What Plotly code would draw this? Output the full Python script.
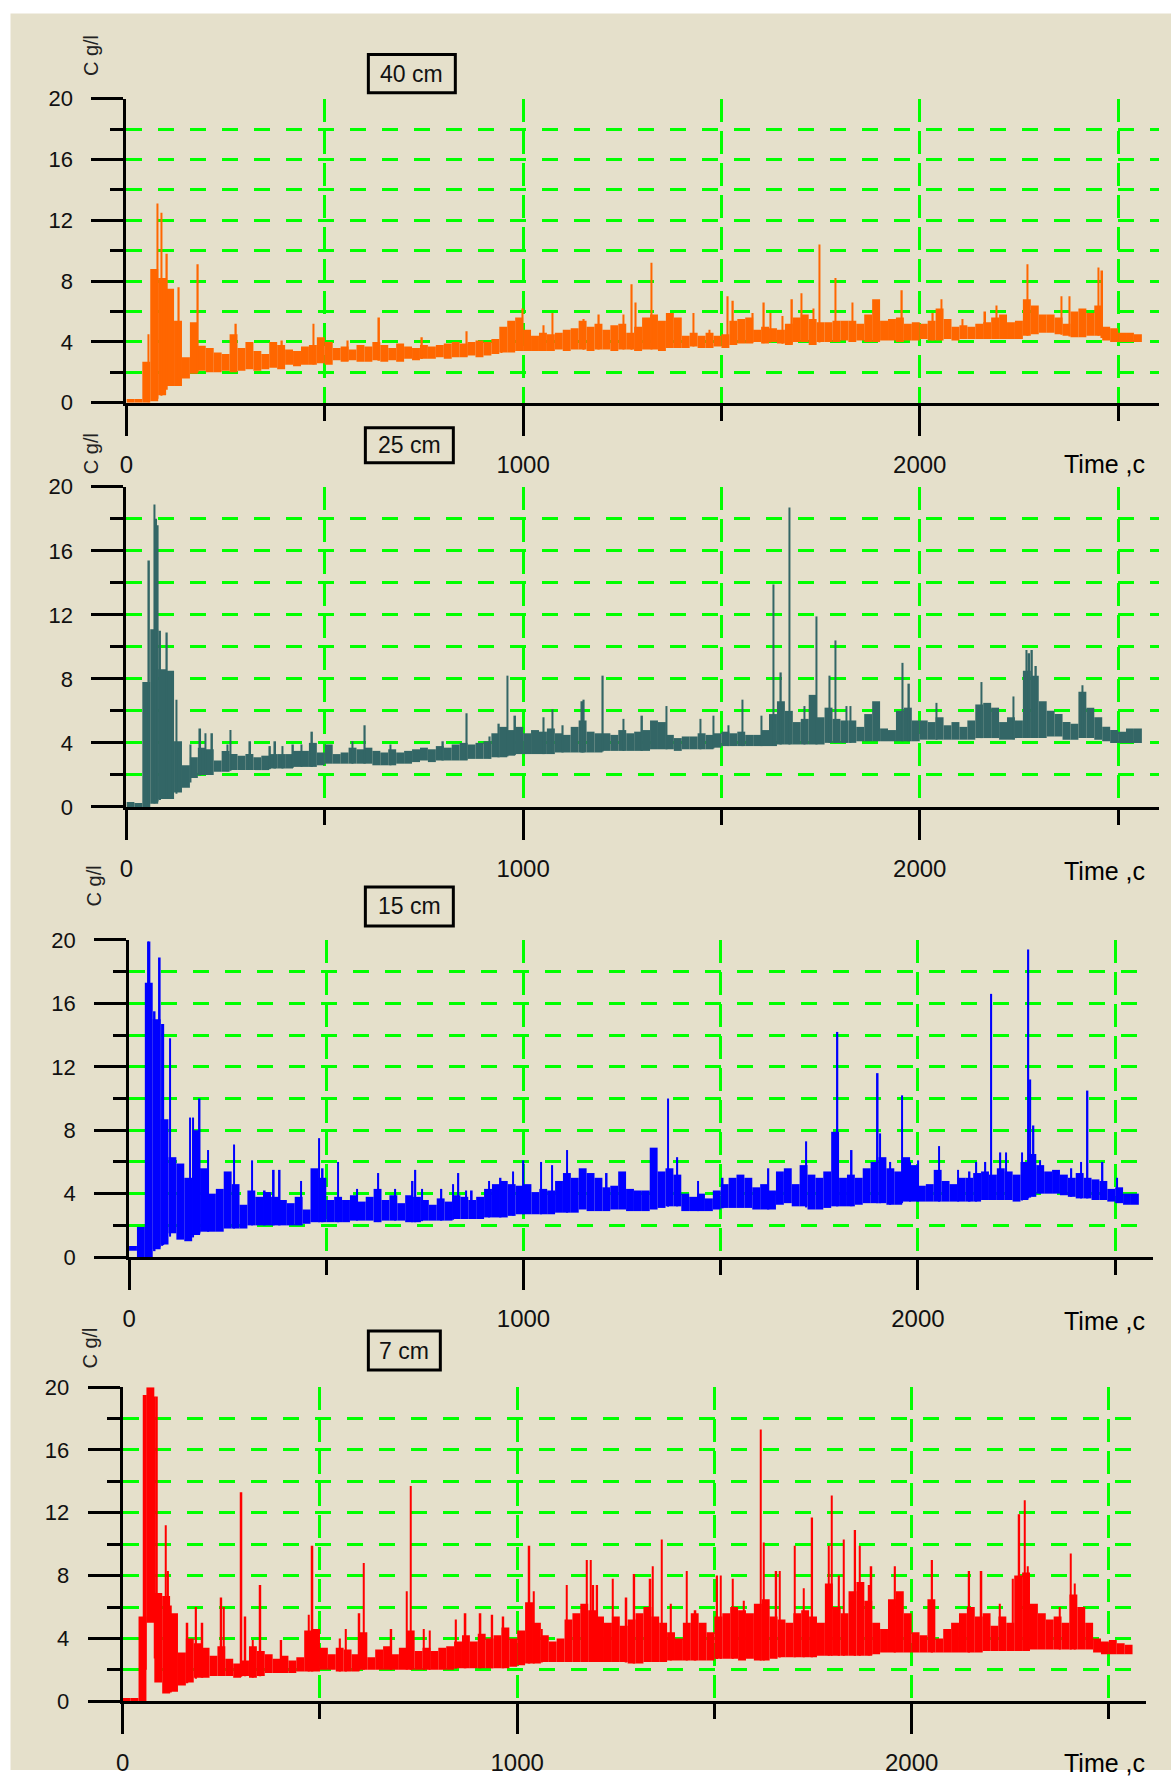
import numpy as np
import plotly.graph_objects as go

W, H = 1171, 1783

# The viewer maps page pixels to picture pixels with a slight scale and offset;
# layout positions below are given in picture pixels and converted with these.
SX, BX = 0.9944, 5.5
SY, BY = 0.9856, 11.4

# time bin centres (s), 20-s bins
t = list(range(10, 2560, 20))

# ---------- 40 cm (orange) ----------
hi40 = [0.25, 0.25, 2.7, 8.8, 8.2, 7.5, 5.4, 3.0, 5.3, 3.75,
        3.6, 3.3, 3.2, 4.5, 3.6, 4.0, 3.4, 3.2, 4.0, 3.8,
        3.5, 3.4, 3.7, 3.8, 4.3, 4.0, 3.6, 3.7, 3.5, 3.8,
        3.7, 4.0, 3.8, 3.6, 3.9, 3.7, 3.6, 3.8, 3.7, 3.8,
        3.9, 4.0, 3.9, 4.0, 4.1, 4.0, 4.2, 5.0, 5.4, 5.6,
        4.8, 4.4, 4.6, 4.5, 4.6, 4.8, 4.9, 5.4, 5.0, 5.2,
        4.8, 5.1, 5.2, 4.6, 5.0, 5.6, 5.8, 5.4, 5.9, 5.6,
        4.4, 4.6, 4.4, 4.6, 4.4, 4.5, 5.4, 5.5, 5.6, 4.8,
        5.0, 4.9, 4.8, 5.2, 5.6, 5.8, 5.5, 5.3, 5.3, 5.4,
        5.4, 5.4, 5.2, 5.8, 6.8, 5.4, 5.5, 5.6, 5.2, 5.3,
        5.2, 5.4, 6.2, 5.5, 5.0, 5.1, 5.0, 5.2, 5.3, 5.6,
        5.8, 5.3, 5.4, 6.8, 6.4, 5.8, 5.8, 5.6, 5.2, 6.0,
        6.2, 5.9, 6.4, 5.0, 4.9, 4.6, 4.6, 4.5]
lo40 = [0, 0, 0, 0.1, 0.5, 1.1, 1.1, 1.6, 1.9, 2.1,
        2.0, 2.0, 2.1, 2.0, 2.1, 2.2, 2.1, 2.2, 2.3, 2.2,
        2.5, 2.4, 2.5, 2.5, 2.6, 2.5, 2.8, 2.7, 2.8, 2.7,
        2.7, 2.8, 2.7, 2.8, 2.7, 2.9, 2.8, 2.9, 2.9, 3.0,
        2.9, 3.0, 3.0, 3.1, 3.0, 3.1, 3.2, 3.3, 3.3, 3.4,
        3.4, 3.4, 3.4, 3.4, 3.5, 3.4, 3.5, 3.5, 3.4, 3.5,
        3.5, 3.4, 3.5, 3.5, 3.4, 3.5, 3.5, 3.4, 3.6, 3.6,
        3.6, 3.7, 3.6, 3.6, 3.7, 3.6, 3.8, 3.9, 3.9, 4.0,
        3.9, 4.0, 3.9, 3.8, 4.0, 4.0, 3.8, 4.0, 4.0, 4.0,
        4.1, 4.0, 4.1, 4.0, 4.0, 4.1, 4.1, 4.0, 4.1, 4.1,
        4.2, 4.1, 4.1, 4.2, 4.1, 4.2, 4.2, 4.2, 4.2, 4.2,
        4.2, 4.2, 4.2, 4.4, 4.5, 4.6, 4.6, 4.5, 4.4, 4.3,
        4.3, 4.4, 4.4, 4.1, 4.0, 4.0, 4.0, 4.0]
spk40_t = [55, 78, 88, 102, 132, 180, 276, 392, 472, 558,
           637, 745, 858, 945, 999, 1052, 1074, 1153, 1191, 1253,
           1274, 1284, 1324, 1430, 1470, 1516, 1529, 1579, 1607, 1624,
           1654, 1678, 1702, 1732, 1747, 1787, 1830, 1955, 2033, 2055,
           2108, 2165, 2194, 2272, 2357, 2378, 2450, 2460]
spk40_v = [4.5, 13.1, 12.5, 9.8, 7.6, 9.1, 5.2, 4.1, 5.2, 4.1,
           5.6, 4.3, 4.7, 4.7, 6.2, 5.1, 5.9, 5.5, 5.8, 5.8,
           7.8, 6.6, 9.2, 5.9, 4.8, 7.0, 6.7, 5.9, 6.6, 5.9,
           5.7, 6.8, 7.2, 6.2, 10.4, 8.2, 6.6, 7.4, 5.9, 6.8,
           5.5, 6.0, 6.4, 9.1, 7.0, 7.0, 8.9, 8.7]

# ---------- 25 cm (dark slate) ----------
hi25 = [0.3, 0.25, 7.8, 11.1, 8.6, 8.5, 4.1, 2.6, 3.1, 3.7,
        3.6, 2.9, 3.5, 3.3, 3.2, 3.3, 3.1, 3.2, 3.3, 3.3,
        3.3, 3.5, 3.5, 4.0, 3.4, 3.9, 3.3, 3.4, 3.7, 3.6,
        3.7, 3.5, 3.4, 3.6, 3.4, 3.5, 3.6, 3.7, 3.6, 3.8,
        3.7, 3.9, 4.0, 3.9, 4.0, 4.1, 4.6, 5.0, 4.8, 5.0,
        4.6, 4.8, 4.7, 4.9, 4.6, 4.5, 5.0, 5.4, 4.7, 4.6,
        4.6, 4.5, 4.8, 4.6, 4.7, 4.8, 5.4, 5.3, 4.5, 4.3,
        4.4, 4.4, 4.6, 4.5, 4.6, 4.7, 4.6, 4.7, 4.5, 4.5,
        4.8, 5.8, 6.6, 6.0, 5.3, 5.5, 7.0, 5.6, 6.2, 5.5,
        5.4, 5.4, 5.0, 5.8, 6.6, 4.9, 4.8, 6.0, 6.2, 5.4,
        5.4, 5.3, 5.6, 5.1, 5.3, 5.0, 5.4, 6.4, 6.5, 6.2,
        5.3, 5.6, 5.4, 8.5, 8.2, 6.6, 6.0, 5.8, 5.3, 5.2,
        7.2, 6.2, 5.6, 5.0, 4.8, 4.7, 4.9, 4.9]
lo25 = [0, 0, 0, 0.2, 0.5, 0.5, 0.9, 1.2, 1.8, 2.0,
        2.0, 2.2, 2.2, 2.3, 2.3, 2.3, 2.3, 2.3, 2.4, 2.4,
        2.4, 2.5, 2.5, 2.5, 2.6, 2.7, 2.7, 2.7, 2.7, 2.7,
        2.7, 2.6, 2.6, 2.6, 2.7, 2.7, 2.8, 2.9, 2.8, 2.9,
        2.9, 2.9, 2.9, 3.0, 3.0, 3.0, 3.1, 3.1, 3.2, 3.3,
        3.3, 3.3, 3.3, 3.3, 3.4, 3.4, 3.4, 3.4, 3.4, 3.4,
        3.5, 3.5, 3.5, 3.5, 3.5, 3.5, 3.6, 3.6, 3.6, 3.5,
        3.6, 3.6, 3.6, 3.6, 3.7, 3.8, 3.8, 3.8, 3.8, 3.8,
        3.8, 3.8, 3.9, 3.9, 3.9, 3.9, 3.9, 3.9, 4.0, 4.0,
        4.0, 4.0, 4.1, 4.1, 4.1, 4.1, 4.1, 4.1, 4.1, 4.1,
        4.2, 4.2, 4.2, 4.2, 4.2, 4.2, 4.2, 4.3, 4.3, 4.3,
        4.2, 4.2, 4.3, 4.3, 4.3, 4.3, 4.4, 4.4, 4.2, 4.2,
        4.3, 4.3, 4.2, 4.1, 4.0, 4.0, 4.0, 4.0]
spk25_t = [57, 71, 75, 79, 85, 102, 116, 126, 161, 186,
           199, 216, 255, 262, 312, 362, 375, 393, 420, 441,
           468, 570, 601, 666, 798, 858, 916, 939, 961, 980,
           1052, 1074, 1100, 1149, 1153, 1201, 1253, 1300, 1361, 1447,
           1480, 1518, 1553, 1601, 1631, 1650, 1672, 1709, 1740, 1773,
           1787, 1815, 1825, 1957, 1973, 2042, 2156, 2236, 2269, 2276,
           2283, 2293, 2410]
spk25_v = [15.4, 18.9, 18.0, 17.6, 11.0, 10.9, 8.4, 6.7, 3.9, 4.9,
           4.6, 4.6, 3.9, 4.8, 4.1, 3.8, 4.1, 3.8, 3.9, 3.9,
           4.7, 4.1, 5.1, 3.9, 4.1, 5.85, 4.4, 5.2, 8.2, 5.7,
           5.6, 6.1, 5.1, 6.6, 6.7, 8.2, 5.5, 5.7, 6.3, 5.5,
           5.7, 5.1, 6.7, 5.7, 13.9, 8.4, 18.7, 6.3, 11.9, 8.2,
           10.4, 6.3, 6.3, 9.0, 7.7, 6.5, 7.8, 6.9, 9.8, 9.6,
           9.8, 8.8, 7.6]

# ---------- 15 cm (blue) ----------
hi15 = [0.7, 1.9, 17.3, 15.0, 8.7, 6.3, 5.9, 5.0, 8.0, 5.6,
        4.0, 4.3, 5.4, 4.6, 3.3, 4.2, 3.8, 4.1, 3.8, 3.6,
        3.4, 3.8, 3.0, 5.6, 5.0, 3.6, 3.8, 3.6, 3.9, 3.5,
        3.8, 4.3, 3.6, 3.9, 3.4, 3.9, 3.8, 3.6, 3.3, 3.7,
        3.5, 3.9, 3.8, 3.6, 3.8, 4.3, 4.6, 4.8, 4.6, 4.5,
        4.6, 4.1, 4.3, 4.2, 4.8, 5.3, 5.0, 5.6, 5.3, 5.0,
        4.4, 4.5, 5.4, 4.3, 4.2, 4.2, 6.9, 5.4, 5.6, 5.2,
        4.0, 3.8, 4.0, 3.7, 4.2, 4.6, 5.0, 5.2, 5.0, 4.4,
        4.6, 4.2, 5.4, 5.6, 4.6, 5.8, 5.2, 5.0, 5.4, 7.9,
        5.0, 5.2, 5.0, 5.6, 6.0, 6.3, 5.6, 5.4, 6.3, 5.8,
        4.5, 4.6, 5.5, 4.8, 4.6, 5.0, 5.0, 5.3, 5.4, 5.2,
        5.6, 5.4, 5.2, 6.0, 6.5, 5.8, 5.4, 5.5, 5.2, 5.0,
        5.3, 5.0, 4.9, 4.8, 4.3, 4.4, 4.0, 4.0]
lo15 = [0.4, 0, 0, 0.5, 0.8, 1.5, 1.1, 1.0, 1.4, 1.6,
        1.6, 1.6, 1.8, 1.8, 1.8, 2.0, 2.0, 2.0, 2.0, 2.0,
        2.0, 2.0, 2.1, 2.2, 2.2, 2.2, 2.2, 2.2, 2.3, 2.3,
        2.3, 2.2, 2.3, 2.3, 2.3, 2.2, 2.2, 2.3, 2.3, 2.3,
        2.3, 2.4, 2.4, 2.4, 2.4, 2.5, 2.5, 2.5, 2.6, 2.7,
        2.7, 2.7, 2.7, 2.7, 2.8, 2.8, 2.8, 3.0, 2.9, 2.9,
        2.9, 3.0, 3.0, 2.9, 2.9, 2.9, 3.0, 3.1, 3.2, 3.2,
        2.9, 2.9, 2.9, 2.9, 3.0, 3.1, 3.1, 3.1, 3.1, 3.0,
        3.0, 3.0, 3.3, 3.4, 3.2, 3.2, 3.0, 3.0, 3.1, 3.2,
        3.2, 3.2, 3.3, 3.4, 3.4, 3.4, 3.3, 3.3, 3.5, 3.5,
        3.5, 3.5, 3.5, 3.5, 3.5, 3.5, 3.5, 3.5, 3.6, 3.6,
        3.6, 3.6, 3.5, 3.6, 3.8, 4.0, 4.0, 4.0, 3.9, 3.8,
        3.7, 3.7, 3.6, 3.6, 3.5, 3.4, 3.3, 3.3]
spk15_t = [48, 52, 65, 78, 84, 87, 104, 155, 162, 179,
           200, 266, 312, 344, 367, 382, 436, 482, 491, 530,
           578, 632, 675, 719, 726, 743, 792, 821, 835, 855,
           869, 913, 942, 974, 1000, 1044, 1073, 1110, 1211, 1366,
           1390, 1442, 1505, 1621, 1717, 1796, 1832, 1898, 1904, 1930,
           1960, 1980, 2000, 2054, 2102, 2131, 2148, 2171, 2186, 2209,
           2223, 2264, 2280, 2285, 2293, 2310, 2389, 2413, 2430, 2468,
           2505]
spk15_v = [19.9, 19.9, 15.5, 18.9, 14.7, 14.7, 13.8, 8.8, 8.8, 10.0,
           6.75, 7.1, 6.1, 4.2, 5.5, 5.5, 4.8, 7.5, 5.6, 6.0,
           4.3, 5.3, 4.3, 4.8, 5.5, 4.3, 4.3, 4.6, 5.3, 4.2,
           4.2, 4.8, 5.0, 5.4, 6.1, 6.0, 5.8, 6.75, 5.3, 10.0,
           6.3, 4.8, 5.0, 5.6, 7.3, 14.2, 6.75, 11.6, 7.8, 6.0,
           10.2, 6.0, 6.1, 7.0, 5.5, 5.4, 6.0, 6.0, 16.6, 6.6,
           6.6, 6.6, 19.4, 11.2, 8.3, 6.1, 5.6, 6.0, 10.5, 6.0,
           5.0]

# ---------- 7 cm (red) ----------
hi7 = [0.2, 0.2, 5.4, 20.0, 6.9, 6.7, 5.6, 3.1, 4.0, 3.7,
       3.4, 2.9, 3.5, 2.7, 2.4, 2.6, 3.5, 3.2, 3.0, 2.7,
       2.9, 2.6, 2.8, 4.5, 4.6, 3.4, 3.0, 3.4, 3.3, 3.0,
       4.4, 2.8, 3.3, 3.5, 3.0, 3.4, 4.5, 3.2, 3.4, 3.2,
       3.4, 3.5, 3.8, 4.2, 3.8, 4.3, 4.0, 4.2, 4.7, 4.0,
       4.5, 6.3, 5.0, 4.2, 3.8, 4.0, 5.2, 5.6, 6.2, 5.8,
       5.4, 5.0, 5.4, 4.8, 5.2, 5.6, 6.0, 5.4, 5.0, 4.4,
       4.0, 5.0, 5.6, 5.0, 4.4, 5.4, 5.6, 6.0, 5.8, 5.6,
       6.2, 6.5, 5.4, 5.2, 5.0, 5.6, 5.8, 5.4, 5.0, 7.5,
       6.0, 5.6, 7.0, 7.6, 6.4, 5.0, 4.6, 6.5, 7.0, 5.6,
       4.4, 4.2, 6.5, 4.0, 4.6, 5.0, 5.6, 6.0, 5.4, 5.6,
       4.8, 5.4, 5.0, 8.0, 8.2, 6.2, 5.6, 5.2, 5.4, 5.0,
       6.8, 6.0, 5.0, 4.0, 3.8, 3.9, 3.7, 3.6]
lo7 = [0, 0, 0, 5.0, 1.2, 0.5, 0.6, 1.0, 1.2, 1.5,
       1.5, 1.6, 1.6, 1.6, 1.5, 1.6, 1.5, 1.6, 1.8, 1.8,
       1.8, 1.8, 1.9, 1.9, 1.9, 2.0, 2.0, 1.9, 1.9, 1.9,
       2.0, 2.0, 2.0, 2.0, 2.0, 2.0, 2.0, 2.0, 2.0, 2.0,
       2.0, 2.0, 2.1, 2.1, 2.1, 2.1, 2.1, 2.1, 2.1, 2.2,
       2.3, 2.4, 2.4, 2.5, 2.5, 2.5, 2.5, 2.5, 2.5, 2.5,
       2.5, 2.5, 2.5, 2.5, 2.4, 2.4, 2.5, 2.5, 2.5, 2.6,
       2.6, 2.6, 2.6, 2.6, 2.6, 2.7, 2.7, 2.7, 2.6, 2.7,
       2.6, 2.6, 2.7, 2.8, 2.8, 2.8, 2.8, 2.8, 2.9, 2.9,
       2.9, 2.9, 2.9, 2.9, 2.9, 3.0, 3.1, 3.1, 3.1, 3.1,
       3.1, 3.1, 3.1, 3.1, 3.1, 3.1, 3.1, 3.1, 3.1, 3.2,
       3.2, 3.2, 3.2, 3.2, 3.2, 3.3, 3.3, 3.3, 3.3, 3.3,
       3.3, 3.3, 3.3, 3.1, 3.0, 3.0, 3.0, 3.0]
spk7_t = [55, 58, 82, 86, 109, 115, 122, 164, 186, 202,
          250, 256, 301, 311, 330, 349, 402, 472, 481, 551,
          566, 600, 611, 681, 720, 730, 763, 778, 845, 869,
          907, 937, 965, 1031, 1042, 1062, 1126, 1177, 1187, 1193,
          1203, 1242, 1277, 1297, 1338, 1344, 1366, 1390, 1430, 1452,
          1507, 1516, 1547, 1575, 1617, 1625, 1657, 1666, 1704, 1726,
          1748, 1790, 1797, 1816, 1828, 1857, 1869, 1893, 1898, 1958,
          2052, 2146, 2177, 2224, 2257, 2273, 2287, 2294, 2375, 2403,
          2413]
spk7_v = [19.5, 19.5, 19.4, 19.4, 11.2, 8.3, 6.1, 5.0, 6.0, 5.0,
          6.6, 6.0, 13.3, 5.4, 3.9, 7.4, 3.9, 5.5, 9.9, 4.0,
          4.6, 5.6, 8.8, 4.6, 7.0, 13.7, 4.6, 4.5, 5.2, 5.6,
          5.6, 5.5, 5.4, 9.9, 7.0, 4.6, 7.4, 9.0, 9.0, 7.4,
          7.4, 7.8, 6.6, 8.1, 7.8, 8.6, 10.3, 6.2, 8.3, 5.8,
          8.0, 8.0, 7.8, 6.4, 17.3, 10.1, 8.3, 8.3, 9.9, 7.2,
          11.7, 9.9, 13.1, 8.0, 10.3, 10.9, 9.9, 7.4, 8.6, 8.6,
          9.0, 8.3, 8.3, 6.2, 7.8, 11.9, 12.8, 8.6, 6.0, 9.4,
          7.5]

depth_labels = ["40 cm", "25 cm", "15 cm", "7 cm"]
series_colors = ["#FF6600", "#336666", "#0000FF", "#FF0000"]
y_tickvals = [0, 4, 8, 12, 16, 20]
y_minorvals = [2, 6, 10, 14, 18]
x_tickvals = [0, 1000, 2000]
x_ticktext = ["0", "1000", "2000"]
x_minorvals = [500, 1500, 2500]
x_title = "Time ,c"
y_title = "C g/l"

series = [
    (hi40, lo40, spk40_t, spk40_v),
    (hi25, lo25, spk25_t, spk25_v),
    (hi15, lo15, spk15_t, spk15_v),
    (hi7, lo7, spk7_t, spk7_v),
]

# panel geometry in picture pixels (x of t=0, px per second, right end, y of 20 / 0)
panels = [
    dict(x0=125.0, k=0.3968, xr=1158, ytop=98, ybot=402, box=(367, 54, 454, 92), ylab=(89, 55), xlab_y=463),
    dict(x0=125.0, k=0.3968, xr=1158, ytop=486, ybot=806, box=(364, 427, 452, 462), ylab=(89, 453), xlab_y=870),
    dict(x0=127.6, k=0.3946, xr=1152, ytop=939, ybot=1256, box=(364, 886, 452, 925), ylab=(92, 885), xlab_y=1320),
    dict(x0=121.3, k=0.3946, xr=1145, ytop=1386, ybot=1700, box=(367, 1330, 439, 1369), ylab=(89, 1347), xlab_y=1762),
]

GREEN = "#00FF00"
BG = "#E5E0CB"
FONT = "Liberation Sans, Arial, sans-serif"


def pgx(ix):
    return (ix - BX) / SX


def pgy(iy):
    return (iy - BY) / SY


def px(ix):
    return pgx(ix) / W


def py(iy):
    return 1 - pgy(iy) / H


fig = go.Figure()
layout = dict(
    width=W, height=H, autosize=False,
    margin=dict(l=0, r=0, t=0, b=0),
    paper_bgcolor="white", plot_bgcolor="rgba(0,0,0,0)",
    barmode="overlay", showlegend=False,
    shapes=[dict(type="rect", xref="paper", yref="paper", x0=px(9), x1=1, y0=0, y1=py(13),
                 fillcolor=BG, line=dict(width=0), layer="below")],
    annotations=[],
)

t_arr = np.array(t, dtype=float)
for i, (p, (hi, lo, st, sv), col, lab) in enumerate(zip(panels, series, series_colors, depth_labels)):
    n = "" if i == 0 else str(i + 1)
    xa, ya = "x" + n, "y" + n
    hi_a, lo_a = np.array(hi), np.array(lo)
    fig.add_trace(go.Bar(x=t, y=hi_a - lo_a, base=lo_a, width=20, marker=dict(color=col, line=dict(width=0)),
                         xaxis=xa, yaxis=ya, hoverinfo="skip"))
    sb = np.interp(np.array(st, dtype=float), t_arr, lo_a)
    fig.add_trace(go.Bar(x=st, y=np.array(sv) - sb, base=sb, width=4, marker=dict(color=col, line=dict(width=0)),
                         xaxis=xa, yaxis=ya, hoverinfo="skip"))

    xmax = (p["xr"] - p["x0"]) / p["k"]
    layout["xaxis" + n] = dict(
        domain=[px(p["x0"]), px(p["xr"])], range=[0, xmax], anchor=ya,
        showline=True, linecolor="black", linewidth=3, zeroline=False,
        ticks="outside", tickmode="array", tickvals=x_tickvals, ticktext=x_ticktext,
        ticklen=30, tickwidth=3, tickcolor="black", ticklabelstandoff=8,
        showgrid=True, gridcolor=GREEN, gridwidth=3, griddash="23px,9px",
        minor=dict(tickmode="array", tickvals=x_minorvals, ticks="outside", ticklen=15, tickwidth=3,
                   tickcolor="black", showgrid=True, gridcolor=GREEN, gridwidth=3, griddash="23px,9px"),
        tickfont=dict(family=FONT, size=24, color="#111"),
        layer="above traces", fixedrange=True,
    )
    layout["yaxis" + n] = dict(
        domain=[py(p["ybot"]), py(p["ytop"])], range=[0, 20], anchor=xa,
        showline=True, linecolor="black", linewidth=3, zeroline=False,
        ticks="outside", tickmode="array", tickvals=y_tickvals,
        ticklen=32, tickwidth=3, tickcolor="black", ticklabelstandoff=14,
        showgrid=True, gridcolor=GREEN, gridwidth=3, griddash="16px,16px",
        minor=dict(tickmode="array", tickvals=y_minorvals, ticks="outside", ticklen=13, tickwidth=3,
                   tickcolor="black", showgrid=True, gridcolor=GREEN, gridwidth=3, griddash="16px,16px"),
        tickfont=dict(family=FONT, size=22, color="#111"),
        layer="above traces", fixedrange=True,
    )
    bx0, by0, bx1, by1 = p["box"]
    layout["shapes"].append(dict(type="rect", xref="paper", yref="paper",
                                 x0=px(bx0), x1=px(bx1), y0=py(by1), y1=py(by0),
                                 line=dict(color="black", width=3), fillcolor=BG, layer="above"))
    layout["annotations"].append(dict(x=px((bx0 + bx1) / 2), y=py((by0 + by1) / 2), xref="paper", yref="paper",
                                      text=lab, showarrow=False, xanchor="center", yanchor="middle",
                                      font=dict(family=FONT, size=23, color="#111")))
    layout["annotations"].append(dict(x=px(1103), y=py(p["xlab_y"]), xref="paper", yref="paper",
                                      text=x_title, showarrow=False, xanchor="center", yanchor="middle",
                                      font=dict(family=FONT, size=25, color="black")))
    lx, ly = p["ylab"]
    layout["annotations"].append(dict(x=px(lx), y=py(ly), xref="paper", yref="paper",
                                      text=y_title, showarrow=False, textangle=-90,
                                      xanchor="center", yanchor="middle",
                                      font=dict(family=FONT, size=20, color="#222")))

fig.update_layout(**layout)
fig.write_html("out.html")
